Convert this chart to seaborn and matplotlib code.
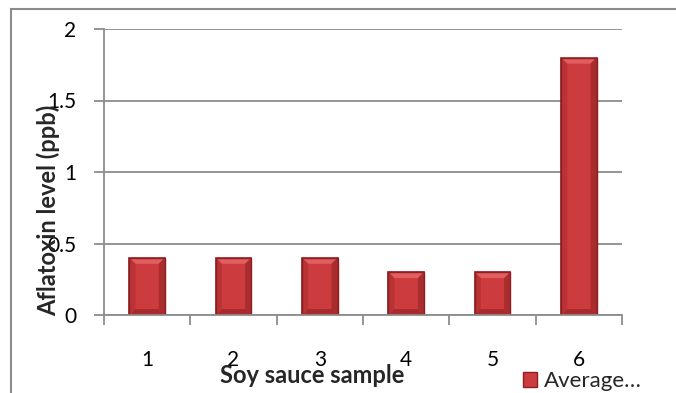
import matplotlib
matplotlib.use("Agg")
import matplotlib.pyplot as plt
import seaborn as sns
import pandas as pd
from matplotlib.patches import Rectangle, Polygon
from matplotlib.ticker import FixedLocator

samples = ["1", "2", "3", "4", "5", "6"]
aflatoxin = [0.4, 0.4, 0.4, 0.3, 0.3, 1.8]
yticks = [0, 0.5, 1, 1.5, 2]
ytick_labels = ["0", "0.5", "1", "1.5", "2"]
series_name = "Average…"

sns.set_theme(style="white")
plt.rcParams["font.family"] = ["Lato", "DejaVu Sans"]

df = pd.DataFrame({"sample": samples, "value": aflatoxin})

fig = plt.figure(figsize=(6.76, 3.93), dpi=100)
ax_w_px, ax_h_px = 622 - 104, 315 - 29
ax = fig.add_axes([104/676, 1-315/393, ax_w_px/676, ax_h_px/393])

bar_color = "#CC3B3D"
sns.barplot(data=df, x="sample", y="value", ax=ax, color=bar_color,
            width=0.41, saturation=1, edgecolor="#8E1E20", linewidth=1.2)

ax.set_xlim(-0.5, len(samples) - 0.5)
ax.set_ylim(0, 2)

# bevel shading derived from the bar patches
bx = 6 / (ax_w_px / len(samples))
by = 6 / (ax_h_px / 2.0)
for p in list(ax.patches):
    x, y, w, h = p.get_x(), p.get_y(), p.get_width(), p.get_height()
    top = [(x, y + h), (x + w, y + h), (x + w - bx, y + h - by), (x + bx, y + h - by)]
    bot = [(x, y), (x + w, y), (x + w - bx, y + by), (x + bx, y + by)]
    lft = [(x, y), (x + bx, y + by), (x + bx, y + h - by), (x, y + h)]
    rgt = [(x + w, y), (x + w - bx, y + by), (x + w - bx, y + h - by), (x + w, y + h)]
    for pts, c in [(top, "#E35E5F"), (bot, "#A82A2C"), (lft, "#B93335"), (rgt, "#A92D2F")]:
        ax.add_patch(Polygon(pts, closed=True, facecolor=c, edgecolor="none", zorder=p.get_zorder() + 0.1))
    ax.add_patch(Rectangle((x, y), w, h, fill=False, edgecolor="#8E1E20", linewidth=1.0,
                           zorder=p.get_zorder() + 0.2))

ax.set_yticks(yticks)
ax.set_yticklabels(ytick_labels)
ax.yaxis.grid(True, color="#8C8C8C", linewidth=1.3)
ax.set_axisbelow(True)

ax.xaxis.set_minor_locator(FixedLocator([i - 0.5 for i in range(len(samples) + 1)]))
ax.tick_params(axis="x", which="major", length=0, pad=25, labelsize=15, colors="black")
ax.tick_params(axis="x", which="minor", length=7, width=1.3, color="#8C8C8C", bottom=True)
ax.tick_params(axis="y", which="major", length=7, width=1.3, color="#8C8C8C", left=True,
               labelsize=15, pad=13, colors="black")

for s in ["top", "right"]:
    ax.spines[s].set_visible(False)
for s in ["left", "bottom"]:
    ax.spines[s].set_color("#8C8C8C")
    ax.spines[s].set_linewidth(1.3)

ax.set_xlabel("Soy sauce sample", fontsize=17, fontweight="bold")
ax.set_ylabel("Aflatoxin level (ppb)", fontsize=17, fontweight="bold")
ax.yaxis.set_label_coords(-44/518, 0.367)
ax.xaxis.set_label_coords((312-104)/518, -0.17)

handle = Rectangle((0, 0), 1, 1, facecolor=bar_color, edgecolor="#8E1E20")
fig.legend([handle], [series_name], loc="center left", bbox_to_anchor=(523/676, 1-381/393),
           frameon=False, fontsize=16, handlelength=0.65, handleheight=0.65,
           handletextpad=0.3, borderpad=0, borderaxespad=0)

fig.patches.append(Rectangle((11/676, -0.1), 1.1, 1.1 - 9/393, transform=fig.transFigure,
                             fill=False, edgecolor="#8C8C8C", linewidth=1.5, figure=fig))

fig.savefig("out.png", dpi=100)
